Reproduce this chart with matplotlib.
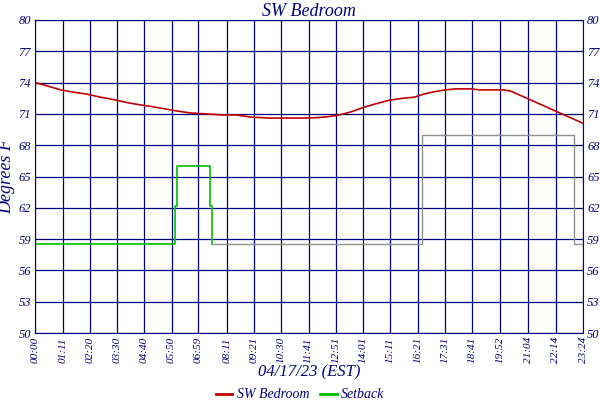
import matplotlib
matplotlib.use("Agg")
import matplotlib.pyplot as plt
from matplotlib.lines import Line2D

tick_labels = ["00:00","01:11","02:20","03:30","04:40","05:50","06:59","08:11","09:21","10:30",
               "11:41","12:51","14:01","15:11","16:21","17:31","18:41","19:52","21:04","22:14","23:24"]
tick_hours = [0,1.18,2.33,3.5,4.67,5.83,6.98,8.18,9.35,10.5,11.68,12.85,14.02,15.18,16.35,17.52,18.68,19.87,21.07,22.23,23.4]

temp_hours = [0,0.5,1.1,1.6,2.2,2.8,3.3,3.9,4.4,5.0,5.5,6.0,6.6,7.3,8.0,8.6,9.2,10.0,10.5,11.2,11.7,12.4,13.0,13.5,14.0,14.6,15.1,15.7,16.2,16.6,17.0,17.5,18.0,18.6,19.0,19.5,20.0,20.3,20.8,21.3,21.9,22.4,22.9,23.4]
temp_vals = [74.0,73.7,73.3,73.1,72.9,72.6,72.4,72.1,71.9,71.7,71.5,71.3,71.1,71.0,70.9,70.9,70.7,70.6,70.6,70.6,70.6,70.7,70.9,71.2,71.6,72.0,72.3,72.5,72.6,72.9,73.1,73.3,73.4,73.4,73.3,73.3,73.3,73.2,72.7,72.2,71.6,71.1,70.6,70.1]

green_hours = [0,5.98,5.98,6.06,6.06,7.47,7.47,7.56,7.56]
green_vals = [58.5,58.5,62.2,62.2,66.0,66.0,62.2,62.2,58.5]
grey_hours = [7.56,16.5,16.53,22.98,23.0,23.4]
grey_vals = [58.5,58.5,69.0,69.0,58.5,58.5]

yticks = [50,53,56,59,62,65,68,71,74,77,80]
navy = "#000080"
font = dict(family="Liberation Serif", style="italic", color=navy)

fig = plt.figure(figsize=(6,4), dpi=100)
ax = fig.add_axes([35/600, 67/400, 548/600, 313/400])
ax.plot(temp_hours, temp_vals, color="#c00000", lw=1.2)
ax.plot(green_hours, green_vals, color="#00c000", lw=1.2)
ax.plot(grey_hours, grey_vals, color="#909090", lw=1.0, drawstyle="steps-post")
ax.set_xlim(0,23.4); ax.set_ylim(50,80)
ax.set_xticks(tick_hours); ax.set_xticklabels(tick_labels, rotation=90, fontsize=8, **font)
ax.set_yticks(yticks); ax.set_yticklabels([str(v) for v in yticks], fontsize=9, **font)
ax.tick_params(right=True, labelright=True, length=0, pad=3)
ax.grid(True, color=navy, lw=0.9)
for s in ax.spines.values(): s.set_color(navy)
ax.set_title("SW Bedroom", fontsize=13, pad=3, **font)
ax.set_ylabel("Degrees F", fontsize=13, labelpad=2, **font)
ax.set_xlabel("04/17/23 (EST)", fontsize=12, labelpad=1, **font)
handles = [Line2D([],[],color="#c00000",lw=2), Line2D([],[],color="#00c000",lw=2)]
fig.legend(handles, ["SW Bedroom","Setback"], loc="lower center", ncol=2, frameon=False,
           bbox_to_anchor=(0.5,-0.035), handlelength=1.2, columnspacing=0.8, handletextpad=0.3,
           prop=dict(family="Liberation Serif", style="italic", size=10))
for t in fig.legends[0].get_texts(): t.set_color(navy)
fig.savefig("out.png")
